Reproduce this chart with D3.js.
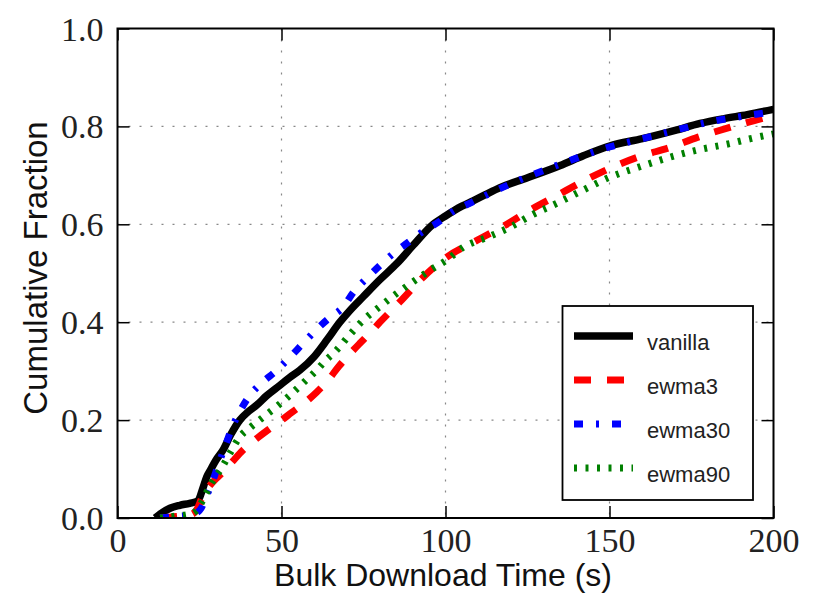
<!DOCTYPE html>
<html>
<head>
<meta charset="utf-8">
<script src="https://cdn.jsdelivr.net/npm/d3@7"></script>
<style>
  body { margin: 0; background: #fff; }
  svg { display: block; }
</style>
</head>
<body>
<div id="chart"></div>
<script>
// series (download time in s, cumulative fraction)
const vanillaX = [11.5, 13, 16, 19, 22, 24.5, 26, 27.2, 28.5, 30, 32.2, 34.5, 37.3, 40, 42.5, 45.5, 49.5, 52.5, 55.6, 60, 64, 67.8, 71, 74.9, 80, 85.2, 90, 96.2, 100, 105, 108.4, 112, 116.6, 125, 135, 142, 150, 160, 170, 177.6, 185, 192, 200];
const vanillaY = [0, 0.008, 0.02, 0.026, 0.03, 0.035, 0.06, 0.084, 0.1, 0.118, 0.139, 0.17, 0.2, 0.218, 0.231, 0.25, 0.271, 0.287, 0.302, 0.33, 0.365, 0.4, 0.425, 0.452, 0.487, 0.52, 0.556, 0.6, 0.617, 0.637, 0.648, 0.66, 0.675, 0.695, 0.72, 0.74, 0.76, 0.775, 0.792, 0.806, 0.816, 0.824, 0.835];

const ewma3X = [13, 18, 22, 24, 26, 28, 30, 32.2, 35, 38.3, 42, 45.9, 49.5, 53.2, 57, 60.7, 64, 67.5, 70.5, 73.9, 77, 80, 86, 93.2, 100.4, 108.4, 114, 119.7, 126, 134, 142, 150, 159, 168.4, 177, 186.7, 193, 200];
const ewma3Y = [0, 0.003, 0.006, 0.015, 0.045, 0.065, 0.08, 0.094, 0.115, 0.139, 0.16, 0.18, 0.197, 0.216, 0.235, 0.257, 0.28, 0.31, 0.333, 0.357, 0.378, 0.4, 0.441, 0.492, 0.533, 0.563, 0.583, 0.604, 0.63, 0.659, 0.688, 0.714, 0.738, 0.757, 0.778, 0.798, 0.81, 0.822];

const ewma30X = [13, 18, 22, 24, 25.5, 27, 29, 30.7, 33, 34.9, 37.5, 40.4, 44, 48.6, 52.5, 56.6, 60.5, 64.8, 68.8, 71.9, 76, 80, 84, 88.6, 93, 97.7, 102, 108, 116.6, 125, 135, 150, 160, 170, 182.7, 190, 200];
const ewma30Y = [0, 0.003, 0.006, 0.01, 0.02, 0.043, 0.075, 0.108, 0.15, 0.184, 0.22, 0.251, 0.276, 0.302, 0.328, 0.357, 0.384, 0.41, 0.431, 0.461, 0.49, 0.516, 0.54, 0.563, 0.585, 0.604, 0.625, 0.645, 0.673, 0.697, 0.723, 0.758, 0.775, 0.792, 0.812, 0.82, 0.83];

const ewma90X = [13, 18, 22, 24, 25.5, 27, 29, 31.9, 34.5, 37.3, 40.5, 44.4, 48.6, 52.6, 56.6, 60.7, 63.5, 66.8, 70.5, 74.9, 80, 85.2, 90, 95.3, 100.4, 105.4, 112.6, 119.7, 126, 134, 142, 150, 159, 168.4, 177, 186.7, 193, 200];
const ewma90Y = [0, 0.004, 0.008, 0.015, 0.03, 0.05, 0.075, 0.104, 0.135, 0.166, 0.185, 0.206, 0.228, 0.251, 0.276, 0.302, 0.322, 0.343, 0.372, 0.404, 0.432, 0.459, 0.482, 0.506, 0.527, 0.553, 0.573, 0.594, 0.618, 0.643, 0.67, 0.696, 0.717, 0.737, 0.752, 0.765, 0.775, 0.785];

const xTicks = [0, 50, 100, 150, 200];
const yTicks = [0, 0.2, 0.4, 0.6, 0.8, 1.0];
const seriesNames = ["vanilla", "ewma3", "ewma30", "ewma90"];

const series = [
    { name: seriesNames[0], xs: vanillaX, ys: vanillaY, color: "#000000", width: 7.5, dash: null },
    { name: seriesNames[1], xs: ewma3X, ys: ewma3Y, color: "#ff0000", width: 7, dash: "17,16" },
    { name: seriesNames[2], xs: ewma30X, ys: ewma30Y, color: "#0000ff", width: 7, dash: "9,13,3,13" },
    { name: seriesNames[3], xs: ewma90X, ys: ewma90Y, color: "#008000", width: 7, dash: "3,8.5" }
];

const width = 817, height = 597;
const plot = { left: 117.5, right: 773.5, top: 28.5, bottom: 518 };

const svg = d3.select("#chart").append("svg")
    .attr("width", width)
    .attr("height", height);

const x = d3.scaleLinear().domain([0, 200]).range([plot.left, plot.right]);
const y = d3.scaleLinear().domain([0, 1]).range([plot.bottom, plot.top]);

// grid punteado
const grid = svg.append("g");
grid.selectAll("line.gx")
    .data(xTicks.slice(1, -1))
    .join("line")
    .attr("x1", d => x(d)).attr("x2", d => x(d))
    .attr("y1", plot.top).attr("y2", plot.bottom)
    .attr("stroke", "#888").attr("stroke-width", 1.2)
    .attr("stroke-dasharray", "2,9");
grid.selectAll("line.gy")
    .data(yTicks.slice(1, -1))
    .join("line")
    .attr("y1", d => y(d)).attr("y2", d => y(d))
    .attr("x1", plot.left).attr("x2", plot.right)
    .attr("stroke", "#888").attr("stroke-width", 1.2)
    .attr("stroke-dasharray", "2,9");

// curvas
svg.append("clipPath").attr("id", "clip")
    .append("rect")
    .attr("x", plot.left).attr("y", plot.top - 10)
    .attr("width", plot.right - plot.left).attr("height", plot.bottom - plot.top + 10);

const line = d3.line()
    .x(d => x(d[0]))
    .y(d => y(d[1]))
    .curve(d3.curveMonotoneX);

svg.append("g")
    .attr("clip-path", "url(#clip)")
    .selectAll("path")
    .data(series)
    .join("path")
    .attr("d", s => line(s.xs.map((v, i) => [v, s.ys[i]])))
    .attr("fill", "none")
    .attr("stroke", s => s.color)
    .attr("stroke-width", s => s.width)
    .attr("stroke-dasharray", s => s.dash)
    .attr("stroke-linecap", "butt")
    .attr("stroke-linejoin", "round");

// ejes con ticks hacia dentro en los cuatro lados
const tickLen = 12;
const axisBottom = d3.axisBottom(x).tickValues(xTicks).tickSize(-tickLen).tickFormat(d3.format("d"));
const axisTop = d3.axisTop(x).tickValues(xTicks).tickSize(-tickLen).tickFormat("");
const axisLeft = d3.axisLeft(y).tickValues(yTicks).tickSize(-tickLen).tickPadding(14).tickFormat(d3.format(".1f"));
const axisRight = d3.axisRight(y).tickValues(yTicks).tickSize(-tickLen).tickFormat("");

function styleAxis(g) {
    g.select(".domain").remove();
    g.selectAll(".tick line").attr("stroke", "#000").attr("stroke-width", 1.5);
    g.selectAll(".tick text")
        .attr("fill", "#222")
        .style("font-family", "'Liberation Serif', 'DejaVu Serif', serif")
        .style("font-size", "34px");
}

svg.append("g").attr("transform", `translate(0,${plot.bottom})`).call(axisBottom).call(styleAxis)
    .selectAll(".tick text").attr("y", 10).attr("dy", "0.71em");
svg.append("g").attr("transform", `translate(0,${plot.top})`).call(axisTop).call(styleAxis);
svg.append("g").attr("transform", `translate(${plot.left},0)`).call(axisLeft).call(styleAxis)
    .selectAll(".tick text").attr("dy", "0.34em");
svg.append("g").attr("transform", `translate(${plot.right},0)`).call(axisRight).call(styleAxis);

// marco
svg.append("rect")
    .attr("x", plot.left).attr("y", plot.top)
    .attr("width", plot.right - plot.left).attr("height", plot.bottom - plot.top)
    .attr("fill", "none").attr("stroke", "#000").attr("stroke-width", 2);

// etiquetas de ejes
svg.append("text")
    .attr("x", 443).attr("y", 586)
    .attr("text-anchor", "middle")
    .style("font-family", "'Liberation Sans', Arial, sans-serif")
    .style("font-size", "32px")
    .attr("fill", "#111")
    .text("Bulk Download Time (s)");

svg.append("text")
    .attr("transform", "translate(47,268) rotate(-90)")
    .attr("text-anchor", "middle")
    .style("font-family", "'Liberation Sans', Arial, sans-serif")
    .style("font-size", "33px")
    .attr("fill", "#111")
    .text("Cumulative Fraction");

// leyenda
const legend = svg.append("g");
legend.append("rect")
    .attr("x", 562.5).attr("y", 306)
    .attr("width", 190.5).attr("height", 194)
    .attr("fill", "#fff").attr("stroke", "#000").attr("stroke-width", 1.8);

const rows = legend.selectAll("g.row")
    .data(series)
    .join("g")
    .attr("transform", (d, i) => `translate(0,${336 + i * 44})`);

rows.append("line")
    .attr("x1", 574).attr("x2", 633)
    .attr("y1", 0).attr("y2", 0)
    .attr("stroke", d => d.color)
    .attr("stroke-width", d => d.width)
    .attr("stroke-dasharray", d => d.dash);

rows.append("text")
    .attr("x", 647).attr("y", 14)
    .style("font-family", "'Liberation Sans', Arial, sans-serif")
    .style("font-size", "22px")
    .attr("fill", "#222")
    .text(d => d.name);
</script>
</body>
</html>
